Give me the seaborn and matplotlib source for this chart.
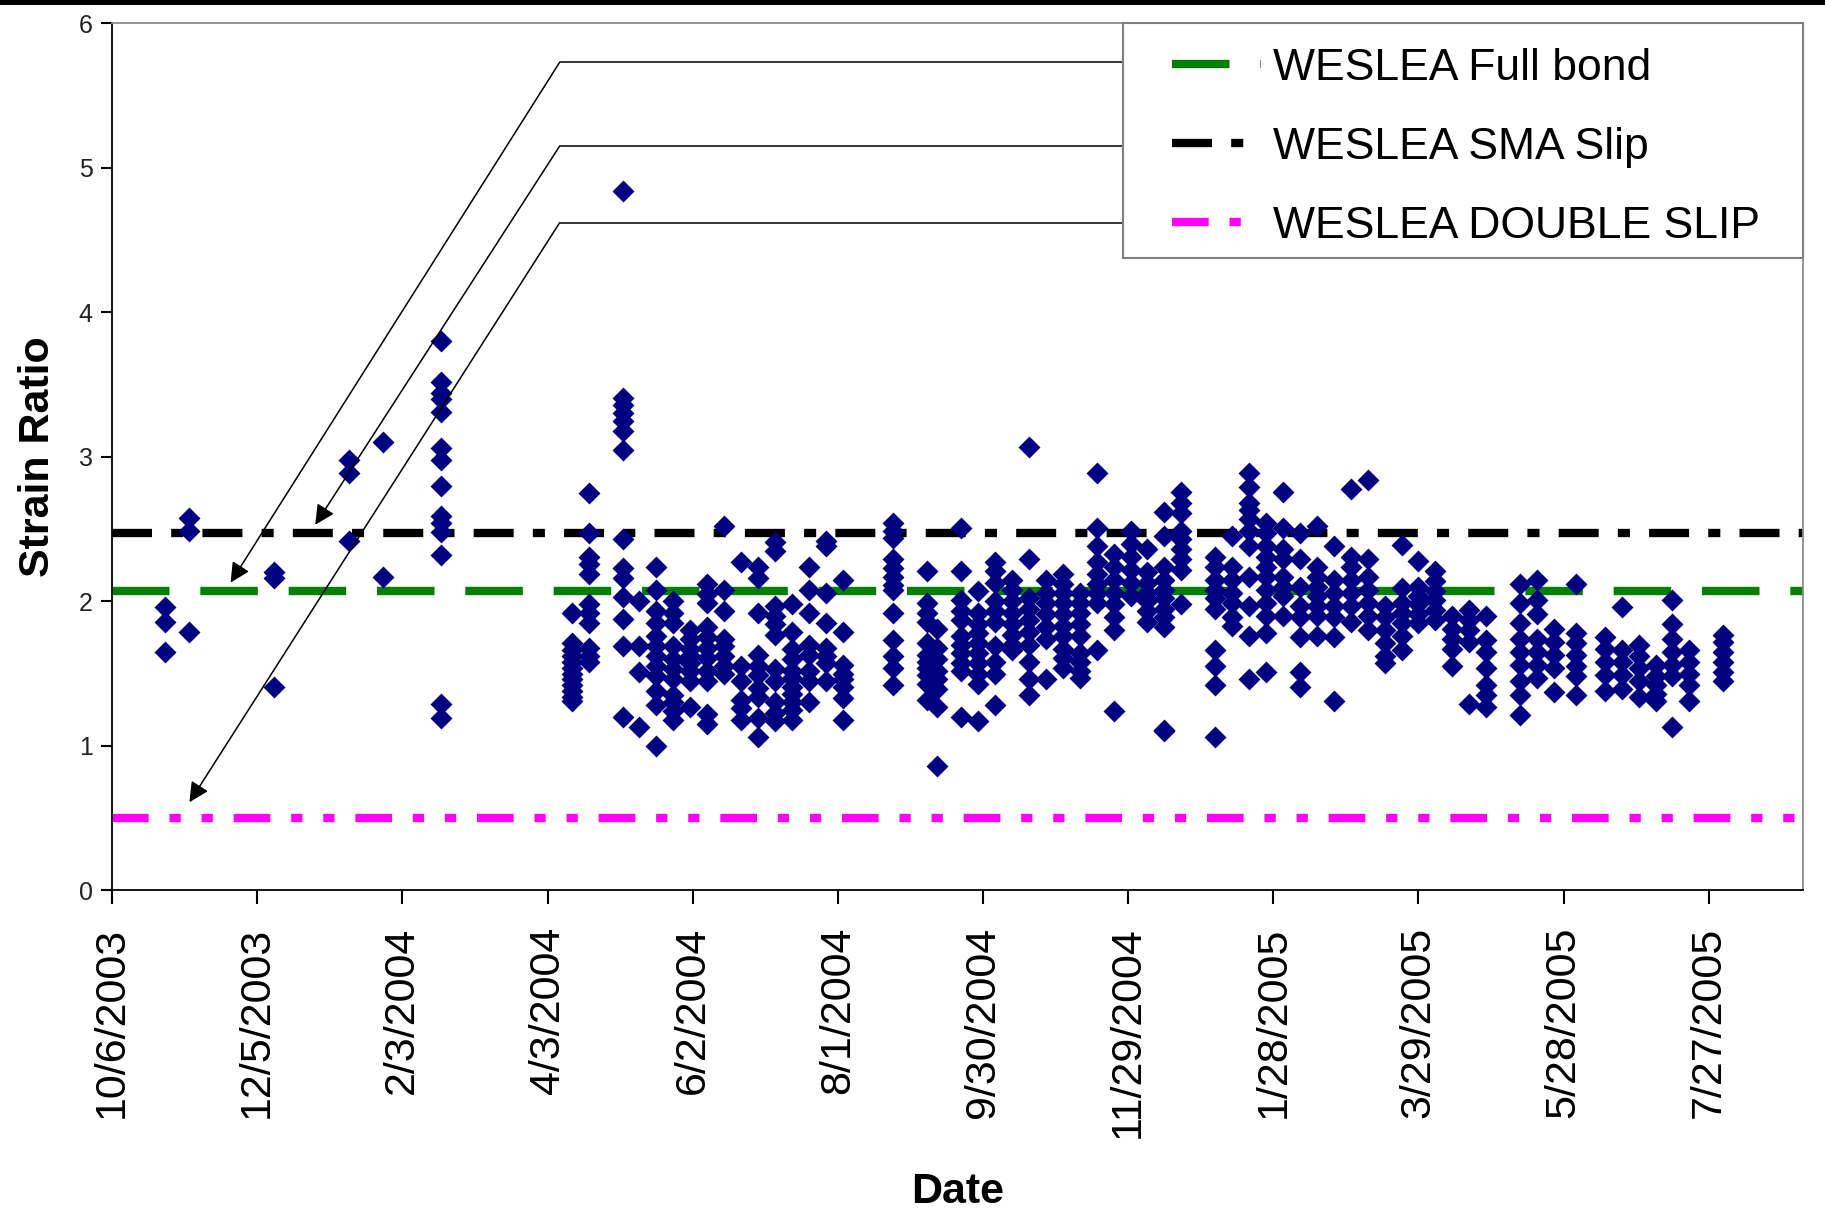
import matplotlib
matplotlib.use("Agg")
import matplotlib.pyplot as plt
import matplotlib.dates as mdates
from matplotlib.lines import Line2D
from matplotlib.patches import Rectangle
import pandas as pd
import seaborn as sns

sns.set_style("white")
plt.rcParams["font.family"] = ["Liberation Sans", "DejaVu Sans"]
plt.rcParams["text.color"] = "black"
plt.rcParams["axes.labelcolor"] = "black"
plt.rcParams["xtick.color"] = "black"
plt.rcParams["ytick.color"] = "black"

# weekly gauge readings (date of reading, strain ratios read that day)
sample_dates = [
    "2003-10-28", "2003-11-07", "2003-12-12", "2004-01-12", "2004-01-26",
    "2004-02-19", "2004-04-13", "2004-04-20", "2004-05-04", "2004-05-11",
    "2004-05-18", "2004-05-25", "2004-06-01", "2004-06-08", "2004-06-15",
    "2004-06-22", "2004-06-29", "2004-07-06", "2004-07-13", "2004-07-20",
    "2004-07-27", "2004-08-03", "2004-08-24", "2004-09-07", "2004-09-11",
    "2004-09-21", "2004-09-28", "2004-10-05", "2004-10-12", "2004-10-19",
    "2004-10-26", "2004-11-02", "2004-11-09", "2004-11-16", "2004-11-23",
    "2004-11-30", "2004-12-07", "2004-12-14", "2004-12-21", "2005-01-04",
    "2005-01-11", "2005-01-18", "2005-01-25", "2005-02-01", "2005-02-08",
    "2005-02-15", "2005-02-22", "2005-03-01", "2005-03-08", "2005-03-15",
    "2005-03-22", "2005-03-29", "2005-04-05", "2005-04-12", "2005-04-19",
    "2005-04-26", "2005-05-10", "2005-05-17", "2005-05-24", "2005-06-02",
    "2005-06-14", "2005-06-21", "2005-06-28", "2005-07-05", "2005-07-12",
    "2005-07-19", "2005-08-02",
]
strain_ratios = [
    [1.96, 1.86, 1.65],
    [2.58, 2.49, 1.79],
    [2.20, 2.16, 1.41],
    [2.98, 2.89, 2.42],
    [3.10, 2.17],
    [3.80, 3.52, 3.44, 3.40, 3.31, 3.06, 2.98, 2.80, 2.59, 2.54, 2.48, 2.32, 1.29, 1.19],
    [1.92, 1.71, 1.66, 1.62, 1.58, 1.54, 1.50, 1.46, 1.42, 1.38, 1.34, 1.31],
    [2.75, 2.47, 2.31, 2.26, 2.19, 1.98, 1.92, 1.85, 1.68, 1.62, 1.58],
    [4.84, 3.41, 3.36, 3.30, 3.25, 3.18, 3.05, 2.43, 2.23, 2.16, 2.03, 1.88, 1.69, 1.20],
    [2.00, 1.69, 1.51, 1.13],
    [2.24, 2.08, 1.93, 1.85, 1.76, 1.69, 1.62, 1.55, 1.48, 1.38, 1.28, 1.00],
    [2.00, 1.92, 1.85, 1.69, 1.60, 1.53, 1.46, 1.35, 1.30, 1.24, 1.18],
    [1.80, 1.74, 1.67, 1.62, 1.57, 1.52, 1.45, 1.27],
    [2.12, 2.05, 1.99, 1.82, 1.75, 1.68, 1.61, 1.52, 1.45, 1.22, 1.15],
    [2.52, 2.08, 1.93, 1.74, 1.69, 1.62, 1.55, 1.50],
    [2.27, 1.55, 1.45, 1.32, 1.26, 1.18],
    [2.24, 2.16, 1.92, 1.63, 1.55, 1.49, 1.40, 1.34, 1.19, 1.06],
    [2.41, 2.35, 1.97, 1.90, 1.84, 1.77, 1.53, 1.45, 1.30, 1.23, 1.17],
    [1.98, 1.79, 1.67, 1.60, 1.52, 1.47, 1.41, 1.36, 1.30, 1.25, 1.18],
    [2.24, 2.08, 1.92, 1.70, 1.63, 1.52, 1.45, 1.30],
    [2.42, 2.38, 2.06, 1.85, 1.68, 1.62, 1.57, 1.45],
    [2.15, 1.79, 1.56, 1.50, 1.46, 1.41, 1.33, 1.18],
    [2.54, 2.49, 2.44, 2.29, 2.23, 2.17, 2.11, 2.08, 1.92, 1.73, 1.62, 1.54, 1.42],
    [2.21, 1.99, 1.92, 1.86, 1.71, 1.63, 1.58, 1.54, 1.49, 1.43, 1.32],
    [1.81, 1.68, 1.60, 1.52, 1.46, 1.39, 1.27, 0.86],
    [2.51, 2.21, 2.01, 1.93, 1.87, 1.76, 1.70, 1.64, 1.57, 1.52, 1.20],
    [2.07, 1.92, 1.84, 1.78, 1.71, 1.64, 1.57, 1.50, 1.43, 1.17],
    [2.27, 2.21, 2.13, 2.00, 1.93, 1.86, 1.69, 1.58, 1.50, 1.28],
    [2.15, 2.08, 2.00, 1.92, 1.84, 1.77, 1.70, 1.66],
    [3.07, 2.29, 2.02, 1.95, 1.87, 1.79, 1.70, 1.58, 1.46, 1.35],
    [2.15, 2.06, 1.99, 1.91, 1.82, 1.74, 1.46],
    [2.19, 2.12, 2.06, 1.99, 1.91, 1.83, 1.76, 1.67, 1.61, 1.54],
    [2.06, 1.99, 1.92, 1.84, 1.76, 1.64, 1.58, 1.52, 1.47],
    [2.89, 2.51, 2.38, 2.27, 2.19, 2.12, 2.06, 1.99, 1.66],
    [2.33, 2.24, 2.15, 2.06, 1.98, 1.89, 1.80, 1.24],
    [2.49, 2.40, 2.31, 2.22, 2.13, 2.04],
    [2.36, 2.20, 2.13, 2.06, 2.00, 1.93, 1.86],
    [2.62, 2.45, 2.24, 2.15, 2.08, 2.02, 1.95, 1.89, 1.82, 1.11, 1.10],
    [2.76, 2.68, 2.61, 2.49, 2.43, 2.36, 2.29, 2.22, 1.98],
    [2.31, 2.24, 2.15, 2.08, 2.02, 1.95, 1.66, 1.55, 1.42, 1.06],
    [2.45, 2.24, 2.15, 2.06, 1.99, 1.89, 1.83],
    [2.89, 2.79, 2.68, 2.63, 2.57, 2.49, 2.38, 2.17, 1.97, 1.76, 1.46],
    [2.54, 2.47, 2.38, 2.31, 2.24, 2.17, 2.08, 1.99, 1.90, 1.78, 1.51],
    [2.76, 2.51, 2.36, 2.29, 2.17, 2.10, 2.04, 1.90],
    [2.47, 2.29, 2.10, 1.97, 1.89, 1.75, 1.51, 1.41],
    [2.52, 2.24, 2.17, 2.10, 2.04, 1.97, 1.90, 1.76],
    [2.38, 2.15, 2.06, 1.97, 1.89, 1.75, 1.31],
    [2.78, 2.31, 2.24, 2.15, 2.06, 1.97, 1.86],
    [2.84, 2.29, 2.17, 2.08, 1.99, 1.90, 1.80],
    [1.97, 1.89, 1.80, 1.71, 1.62, 1.57],
    [2.39, 2.09, 1.99, 1.92, 1.85, 1.76, 1.66],
    [2.28, 2.10, 2.04, 1.98, 1.91, 1.85],
    [2.21, 2.14, 2.07, 2.01, 1.94, 1.87],
    [1.90, 1.81, 1.74, 1.67, 1.55],
    [1.94, 1.87, 1.80, 1.72, 1.29],
    [1.90, 1.73, 1.65, 1.54, 1.42, 1.35, 1.27],
    [2.12, 1.99, 1.85, 1.74, 1.65, 1.56, 1.45, 1.35, 1.21],
    [2.15, 2.01, 1.91, 1.74, 1.65, 1.56, 1.47],
    [1.81, 1.72, 1.63, 1.54, 1.37],
    [2.12, 1.78, 1.71, 1.63, 1.55, 1.48, 1.35],
    [1.75, 1.67, 1.58, 1.49, 1.38],
    [1.96, 1.66, 1.58, 1.49, 1.39],
    [1.70, 1.62, 1.54, 1.45, 1.34],
    [1.56, 1.48, 1.42, 1.36, 1.31],
    [2.01, 1.84, 1.74, 1.65, 1.56, 1.48, 1.13],
    [1.66, 1.58, 1.50, 1.42, 1.31],
    [1.77, 1.72, 1.65, 1.58, 1.51, 1.45],
]

# WESLEA predictions
model_names = ["WESLEA Full bond", "WESLEA SMA Slip", "WESLEA DOUBLE SLIP"]
model_values = [2.07, 2.47, 0.50]
model_colors = ["#008000", "#000000", "#FF00FF"]
model_dashes = [(6.9, 3.7), (4.8, 2.3, 1.45, 2.3), (4.4, 2.5, 1.35, 2.5, 1.35, 2.5)]

# callout arrows: bend point and arrow tip for each legend entry
arrow_bend_dates = ["2004-04-08", "2004-04-08", "2004-04-08"]
arrow_bend_values = [5.73, 5.15, 4.62]
arrow_tip_dates = ["2003-11-24", "2003-12-29", "2003-11-07"]
arrow_tip_values = [2.13, 2.53, 0.61]

tick_dates = pd.date_range("2003-10-06", periods=12, freq="60D")
x_start, x_end = pd.Timestamp("2003-10-06"), pd.Timestamp("2005-09-04")

rows = [(pd.Timestamp(d), v) for d, vals in zip(sample_dates, strain_ratios) for v in vals]
df = pd.DataFrame(rows, columns=["Date", "Strain Ratio"])

fig = plt.figure(figsize=(18.25, 12.14), dpi=100)
ax = fig.add_axes([0.0614, 0.2666, 0.9266, 0.7142])

for val, col, dsh in zip(model_values, model_colors, model_dashes):
    ax.axhline(val, color=col, lw=6, dashes=dsh, zorder=1)

sns.scatterplot(data=df, x="Date", y="Strain Ratio", ax=ax, marker="D", s=125,
                color="#000080", linewidth=0, zorder=3, legend=False)

ax.set_xlim(x_start, x_end)
ax.set_ylim(0, 6)
ax.set_yticks(range(7))
ax.set_xticks(tick_dates)
ax.set_xticklabels([f"{d.month}/{d.day}/{d.year}" for d in tick_dates], rotation=90)

ax.tick_params(axis="x", direction="out", length=10, width=1.5, labelsize=31, pad=16,
               color="black", labelcolor="black", bottom=True)
ax.tick_params(axis="y", direction="out", length=8, width=1.5, labelsize=18, pad=6,
               color="black", labelcolor="#222222", left=True)

for side in ["left", "bottom"]:
    ax.spines[side].set_color("black")
    ax.spines[side].set_linewidth(1.3)
for side in ["top", "right"]:
    ax.spines[side].set_color("#8c8c8c")
    ax.spines[side].set_linewidth(1.3)

ax.set_xlabel("Date", fontsize=31, fontweight="bold", color="black")
ax.set_ylabel("Strain Ratio", fontsize=31, fontweight="bold", color="black")
ax.xaxis.set_label_coords(0.5, -0.325)
ax.yaxis.set_label_coords(-0.032, 0.5)

# legend box
box_x0, box_y0, box_w, box_h = 0.5979, 0.7293, 0.4021, 0.2707
ax.add_patch(Rectangle((box_x0, box_y0), box_w, box_h, transform=ax.transAxes,
                       facecolor="white", edgecolor="#7f7f7f", lw=1.5, zorder=5,
                       clip_on=False))
handles = [Line2D([], [], color=c, lw=6, dashes=d) for c, d in zip(model_colors, model_dashes)]
leg = ax.legend(handles, model_names, loc="upper left", bbox_to_anchor=(0.6268, 0.972),
                frameon=False, borderpad=0, borderaxespad=0, handlelength=2.0,
                handletextpad=0.27, labelspacing=0.86, fontsize=32, labelcolor="black")
leg.set_zorder(6)

# callout lines from legend entries
xmin, xmax = mdates.date2num(x_start), mdates.date2num(x_end)
box_left = xmin + box_x0 * (xmax - xmin)
for bd, bv, td, tv in zip(arrow_bend_dates, arrow_bend_values, arrow_tip_dates, arrow_tip_values):
    bnum = mdates.date2num(pd.Timestamp(bd))
    ax.plot([bnum, box_left], [bv, bv], color="black", lw=1.1, zorder=4)
    ax.annotate("", xy=(mdates.date2num(pd.Timestamp(td)), tv), xytext=(bnum, bv),
                arrowprops=dict(arrowstyle="-|>", color="black", lw=1.1,
                                mutation_scale=30, shrinkA=0, shrinkB=0),
                zorder=4)

fig.patches.append(Rectangle((0, 1 - 5 / 1214), 1, 5 / 1214, transform=fig.transFigure,
                             facecolor="black", edgecolor="none"))

fig.savefig("out.png", dpi=100)
